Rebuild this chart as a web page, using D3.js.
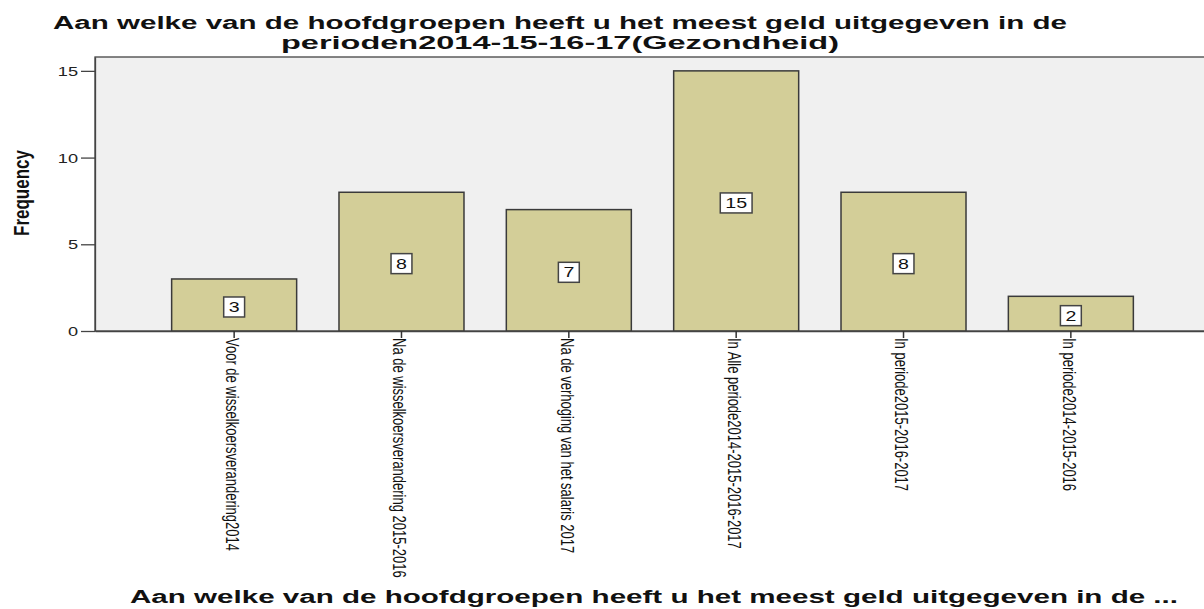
<!DOCTYPE html>
<html>
<head>
<meta charset="utf-8">
<script src="https://cdn.jsdelivr.net/npm/d3@7"></script>
<style>
  html, body { margin: 0; padding: 0; background: #ffffff; overflow: hidden; }
  svg { display: block; font-family: Arial, "Liberation Sans", sans-serif; }
</style>
</head>
<body>
<svg id="chart" width="1204" height="609"></svg>
<script>
// ---- data ----
const categories = [
  "Voor de wisselkoersverandering2014",
  "Na de wisselkoersverandering 2015-2016",
  "Na de verhoging van het salaris 2017",
  "In Alle periode2014-2015-2016-2017",
  "In periode2015-2016-2017",
  "In periode2014-2015-2016"
];
const frequencies = [3, 8, 7, 15, 8, 2];
const yTicks = [0, 5, 10, 15];
const titleLines = [
  "Aan welke van de hoofdgroepen heeft u het meest geld uitgegeven in de",
  "perioden2014-15-16-17(Gezondheid)"
];
const xTitle = "Aan welke van de hoofdgroepen heeft u het meest geld uitgegeven in de ...";
const yTitle = "Frequency";

// ---- layout ----
const SX = 1.4; // horizontal stretch of the original picture
const plot = { left: 95, right: 1210, top: 57, bottom: 331 };
const svg = d3.select("#chart");

const x = d3.scaleBand()
  .domain(categories)
  .range([plot.left, plot.right])
  .paddingInner(0.253)
  .paddingOuter(0.458);

const y = d3.scaleLinear()
  .domain([0, 15.8])
  .range([plot.bottom, plot.top]);

// plot background
svg.append("rect")
  .attr("x", plot.left).attr("y", plot.top)
  .attr("width", plot.right - plot.left).attr("height", plot.bottom - plot.top)
  .attr("fill", "#f0f0f0")
  .attr("stroke", "#444").attr("stroke-width", 1.3);

// bars
svg.append("g").selectAll("rect")
  .data(frequencies)
  .join("rect")
  .attr("x", (d, i) => x(categories[i]))
  .attr("y", d => y(d))
  .attr("width", x.bandwidth())
  .attr("height", d => y(0) - y(d))
  .attr("fill", "#d3ce98")
  .attr("stroke", "#3a3a3a")
  .attr("stroke-width", 1.5);

// y axis
const yAxis = svg.append("g")
  .attr("transform", `translate(${plot.left},0)`)
  .call(d3.axisLeft(y).tickValues(yTicks).tickSizeInner(14).tickSizeOuter(0).tickPadding(0).tickFormat(d3.format("d")));
yAxis.select(".domain").attr("stroke", "#444").attr("stroke-width", 1.3);
yAxis.selectAll(".tick line").attr("stroke", "#444").attr("stroke-width", 1.3);
yAxis.selectAll(".tick text")
  .attr("x", null).attr("dy", null)
  .attr("font-size", 13)
  .attr("fill", "#222")
  .attr("text-anchor", "end")
  .attr("transform", `translate(-17,4.5) scale(${SX},1)`);

// x axis
const xAxis = svg.append("g")
  .attr("transform", `translate(0,${plot.bottom})`)
  .call(d3.axisBottom(x).tickSizeInner(7).tickSizeOuter(0).tickPadding(0));
xAxis.select(".domain").attr("stroke", "#444").attr("stroke-width", 1.3);
xAxis.selectAll(".tick line").attr("stroke", "#333").attr("stroke-width", 1.5);
xAxis.selectAll(".tick text")
  .attr("y", null).attr("dy", null)
  .attr("font-size", 13)
  .attr("fill", "#111")
  .attr("text-anchor", "start")
  .attr("transform", `translate(-1,7) scale(${SX},1) rotate(90)`)
  .attr("dy", "0.4em");

// value labels
const labels = svg.append("g").selectAll("g")
  .data(frequencies)
  .join("g")
  .attr("transform", (d, i) => `translate(${x(categories[i]) + x.bandwidth() / 2},${(y(d) + y(0)) / 2 + 2})`);
labels.each(function(d) {
  const g = d3.select(this);
  const t = g.append("text")
    .text(d)
    .attr("font-size", 14)
    .attr("fill", "#111")
    .attr("text-anchor", "middle")
    .attr("dy", "0.36em")
    .attr("transform", `scale(${SX},1)`);
  const w = t.node().getComputedTextLength() * SX + 10;
  g.insert("rect", "text")
    .attr("x", -w / 2).attr("y", -10)
    .attr("width", w).attr("height", 20)
    .attr("fill", "#ffffff")
    .attr("stroke", "#444").attr("stroke-width", 1.5);
});

// title
const titleWidths = [1014, 558];
svg.append("g").selectAll("text")
  .data(titleLines)
  .join("text")
  .attr("x", 560)
  .attr("y", (d, i) => 29 + i * 20.3)
  .attr("text-anchor", "middle")
  .attr("font-size", 17.5)
  .attr("font-weight", "bold")
  .attr("fill", "#111")
  .attr("textLength", (d, i) => titleWidths[i])
  .attr("lengthAdjust", "spacingAndGlyphs")
  .text(d => d);

// x axis title
svg.append("text")
  .attr("x", 654).attr("y", 603)
  .attr("text-anchor", "middle")
  .attr("font-size", 17.5)
  .attr("font-weight", "bold")
  .attr("fill", "#111")
  .attr("textLength", 1048)
  .attr("lengthAdjust", "spacingAndGlyphs")
  .text(xTitle);

// y axis title
svg.append("text")
  .attr("transform", `translate(28.5,193) scale(1.3,1) rotate(-90)`)
  .attr("text-anchor", "middle")
  .attr("font-size", 17)
  .attr("font-weight", "bold")
  .attr("fill", "#111")
  .text(yTitle);
</script>
</body>
</html>
